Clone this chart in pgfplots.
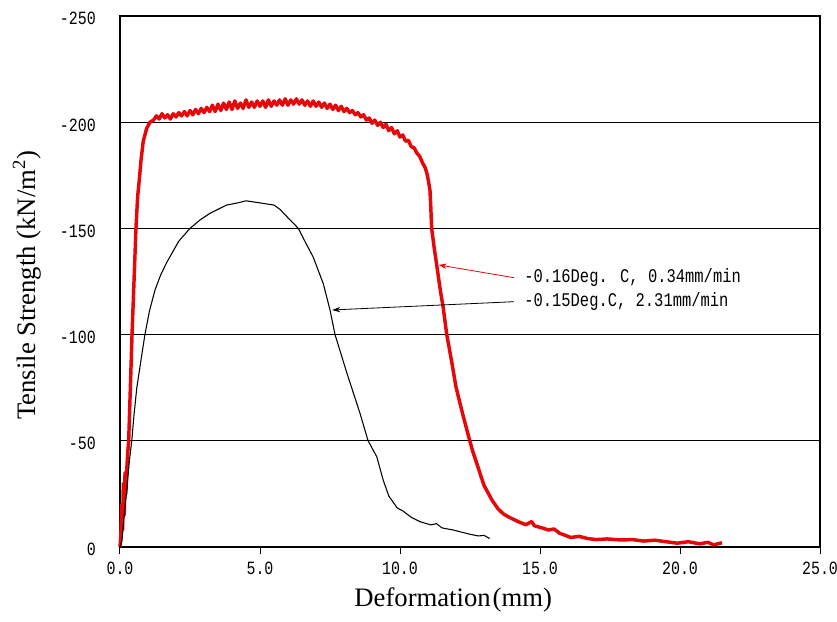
\documentclass[border=0pt]{standalone}
\usepackage{pgfplots}
\pgfplotsset{compat=1.18}
\usepackage{fontspec}
\setmainfont{Liberation Serif}
\newfontfamily\monofont[FakeStretch=0.8]{Liberation Mono}
\usetikzlibrary{arrows.meta}
\definecolor{mred}{RGB}{228,8,10}
\begin{document}
\begin{tikzpicture}
\path[use as bounding box] (-90pt,-55.5pt) rectangle (537.75pt,410.25pt);
\begin{axis}[
  scale only axis, width=525pt, height=398.25pt,
  at={(0,0)}, anchor=south west,
  xmin=0, xmax=25, ymin=-250, ymax=0, y dir=reverse,
  xtick={0,5,10,15,20,25}, xticklabels={0.0,5.0,10.0,15.0,20.0,25.0},
  ytick={-250,-200,-150,-100,-50,0}, yticklabels={-250,-200,-150,-100,-50,0},
  ymajorgrids, grid style={black, line width=0.75pt},
  axis line style={line width=1.5pt},
  xtick align=outside, major tick length=5pt,
  xtick style={black, line width=0.75pt},
  ytick style={draw=none},
  xtick pos=bottom,
  ticklabel style={font=\monofont\fontsize{14}{16}\selectfont},
  yticklabel style={anchor=east, inner sep=0pt, xshift=-18pt, yshift=-2pt},
  xticklabel style={anchor=center, inner sep=0pt, yshift=-11pt},
  xlabel={Deformation\hspace{1.5pt}(mm)},
  ylabel={Tensile Strength (kN/m\textsuperscript{2})},
  xlabel style={font=\fontsize{20}{24}\selectfont, at={(axis description cs:0.476,-0.0998)}, anchor=center},
  ylabel style={font=\fontsize{20}{24}\selectfont, at={(axis description cs:-0.133,0.493)}, anchor=center},
  clip=false,
]
% -0.16 Deg C, 0.34 mm/min (red)
\addplot[mred, line width=2.6pt, line join=round] coordinates {
(0,0) (0.03,-5) (0.06,-20) (0.09,-8) (0.12,-30) (0.15,-15) (0.18,-35) (0.21,-25) (0.24,-36)
(0.28,-45) (0.31,-50) (0.37,-75) (0.43,-100) (0.5,-125) (0.57,-150) (0.63,-165) (0.69,-173)
(0.75,-182) (0.83,-191) (0.95,-197) (1.07,-200) (1.2,-201)
(1.3,-203) (1.4,-201.5) (1.5,-204) (1.6,-202) (1.7,-203.5) (1.8,-201.5) (1.9,-204) (2.0,-202.5)
(2.1,-204.5) (2.2,-203) (2.3,-205) (2.4,-203) (2.5,-205.5) (2.6,-203.5) (2.7,-206) (2.8,-204)
(2.9,-206.5) (3.0,-204.5) (3.1,-207) (3.2,-205) (3.3,-208) (3.4,-205) (3.5,-208.5) (3.6,-205.5)
(3.7,-209) (3.8,-206) (3.9,-209.5) (4.0,-206) (4.1,-210) (4.2,-206.5) (4.3,-209) (4.4,-206.5)
(4.5,-210.5) (4.6,-207) (4.7,-209.5) (4.8,-207) (4.9,-210) (5.0,-207.5) (5.1,-210) (5.2,-207)
(5.3,-210.5) (5.4,-207.5) (5.5,-210) (5.6,-208) (5.7,-210.5) (5.8,-208) (5.9,-211) (6.0,-208)
(6.1,-210.5) (6.2,-208.5) (6.3,-211) (6.4,-208.5) (6.5,-210.5) (6.6,-208) (6.7,-210) (6.8,-207.5)
(6.9,-210) (7.0,-207.5) (7.1,-209.5) (7.2,-207) (7.3,-209) (7.4,-206.5) (7.5,-208.5) (7.6,-206)
(7.7,-208) (7.8,-205.5) (7.9,-207.5) (8.0,-205) (8.1,-206.5) (8.2,-204.5) (8.3,-205.5) (8.4,-203.5)
(8.5,-204.5) (8.6,-202.5) (8.7,-203.5) (8.8,-201) (8.9,-202) (9.0,-199.5) (9.1,-201) (9.2,-198.5)
(9.3,-200) (9.4,-197.5) (9.5,-199) (9.6,-196) (9.7,-197.5) (9.8,-194.5) (9.9,-196) (10.0,-193)
(10.1,-194) (10.2,-191) (10.3,-191.5) (10.4,-188.5) (10.5,-188) (10.6,-185.5) (10.7,-184)
(10.8,-181) (10.9,-178.5) (10.96,-176) (11.02,-172) (11.07,-168) (11.1,-160) (11.13,-150)
(11.22,-141) (11.31,-132.8) (11.45,-120) (11.54,-113) (11.67,-100) (11.85,-87) (12.0,-75.3)
(12.25,-62) (12.5,-49.6) (12.6,-45) (12.8,-37) (13.0,-29) (13.29,-22) (13.5,-18) (13.7,-15.5)
(13.9,-14) (14.1,-12.7) (14.3,-11.5) (14.5,-10.5) (14.7,-12) (14.8,-10) (15.07,-9) (15.3,-8)
(15.5,-8.5) (15.7,-6.5) (15.9,-5.5) (16.1,-4.5) (16.4,-5) (16.7,-4) (17.0,-3.5) (17.4,-3.8)
(17.9,-3.3) (18.3,-3.5) (18.7,-2.8) (19.1,-3.2) (19.5,-2.5) (19.9,-1.8) (20.3,-2.5) (20.7,-1.5)
(21.0,-2.2) (21.2,-1) (21.5,-2)
};
% -0.15 Deg C, 2.31 mm/min (black)
\addplot[black, line width=0.8pt] coordinates {
(0,0) (0.07,-3) (0.15,-15) (0.25,-28) (0.33,-40) (0.42,-50) (0.5,-62) (0.6,-75) (0.75,-88)
(0.89,-100) (1.05,-111) (1.25,-121) (1.45,-128) (1.67,-134) (2.1,-144) (2.5,-150) (2.86,-154)
(3.2,-157) (3.5,-159) (3.81,-161) (4.2,-162) (4.5,-163) (5.0,-162) (5.5,-161) (5.71,-159)
(6.0,-155) (6.37,-150) (6.6,-144) (6.9,-136.5) (7.26,-124) (7.5,-111.6) (7.68,-100) (8.1,-82)
(8.57,-63) (8.86,-50) (9.17,-42.5) (9.4,-31.5) (9.6,-24) (9.9,-18.4) (10.1,-17) (10.4,-14)
(10.7,-12) (11.1,-10.4) (11.3,-11) (11.5,-9) (11.9,-8) (12.2,-7) (12.5,-6) (12.8,-5.2)
(13.0,-5.5) (13.2,-4)
};
\draw[mred, line width=0.6pt, -{Stealth[length=6pt,width=4pt]}] (axis cs:14.07,-126.8) -- (axis cs:11.38,-132.8);
\draw[black, line width=0.6pt, -{Stealth[length=6pt,width=4pt]}] (axis cs:14.07,-115.5) -- (axis cs:7.58,-111.6);
\node[anchor=west, inner sep=0pt, font=\monofont\fontsize{14.5}{16}\selectfont] at (axis cs:14.43,-126.8) {-0.16Deg. C, 0.34mm/min};
\node[anchor=west, inner sep=0pt, font=\monofont\fontsize{14.5}{16}\selectfont] at (axis cs:14.43,-115.5) {-0.15Deg.C, 2.31mm/min};
\end{axis}
\end{tikzpicture}
\end{document}
